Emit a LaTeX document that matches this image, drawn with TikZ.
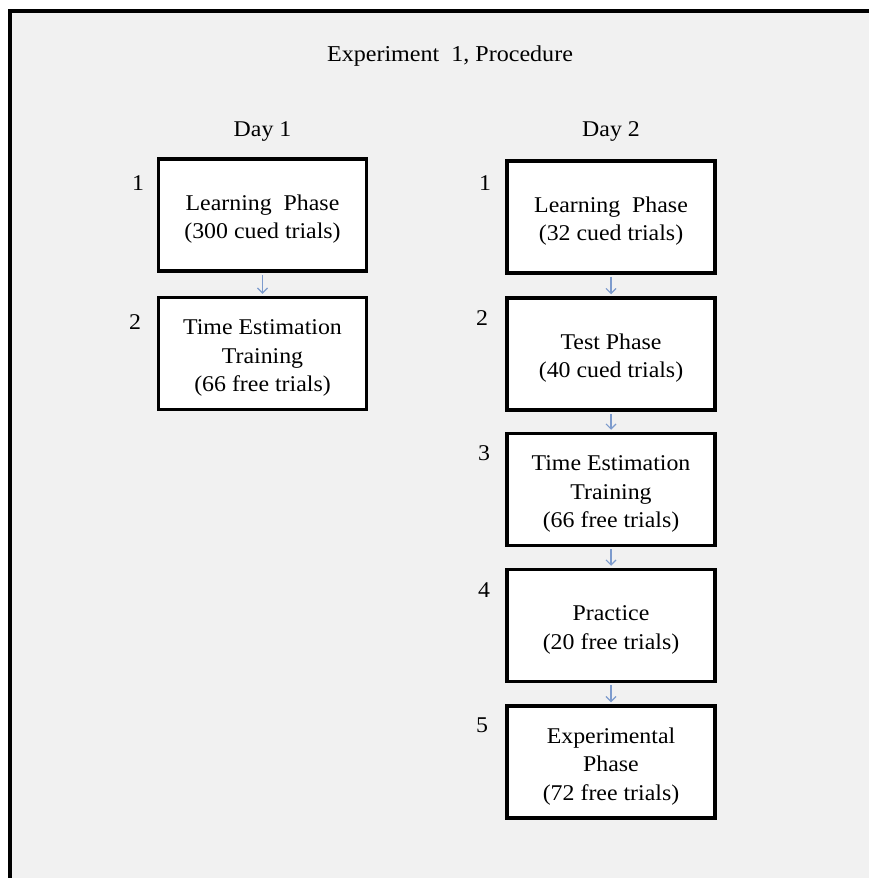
\documentclass[tikz,border=0pt]{standalone}
\usepackage{fontspec}
\setmainfont{Liberation Serif}
\newfontfamily\boxfont[FakeStretch=1.06]{Liberation Serif}
\usetikzlibrary{arrows.meta}
\definecolor{bggray}{RGB}{241,241,241}
\definecolor{arrowblue}{RGB}{125,155,205}
\newcommand\mystrut{\rule{0pt}{24pt}}
\begin{document}
\begin{tikzpicture}[x=1pt,y=-1pt,
  stepbox/.style={draw=black, line width=3.5pt, fill=white, minimum width=208pt,
    minimum height=112pt, inner sep=0pt, align=center,
    font=\boxfont\fontsize{22.5}{28.5}\selectfont},
  lbl/.style={font=\boxfont\fontsize{22.5}{26}\selectfont, inner sep=0pt, anchor=base},
  flow/.style={draw=arrowblue, line width=1.1pt, shorten <=2pt, shorten >=2pt,
    -{Straight Barb[length=5pt,width=10pt]}}]
\useasboundingbox (0,0) rectangle (869,878);
\fill[white] (0,0) rectangle (869,878);
\fill[bggray] (10,11) rectangle (869,878);
\draw[line width=4pt] (10,878) -- (10,11) -- (869,11);

\node[lbl, font=\boxfont\fontsize{22.7}{26}\selectfont] (title) at (450,61) {Experiment\ \ 1, Procedure};

\node[lbl] (day1) at (262.5,136) {Day 1};
\node[lbl] (day2) at (611,136) {Day 2};

% Day 1
\node[stepbox] (a1) at (262.5,215) {\mystrut Learning\ \ Phase\\(300 cued trials)};
\node[stepbox] (a2) at (262.5,353.5) {\mystrut Time Estimation\\Training\\(66 free trials)};
\node[lbl] (na1) at (138,190) {1};
\node[lbl] (na2) at (135,329) {2};

% Day 2
\node[stepbox] (b1) at (611,217) {\mystrut Learning\ \ Phase\\(32 cued trials)};
\node[stepbox] (b2) at (611,354) {\mystrut Test Phase\\(40 cued trials)};
\node[stepbox] (b3) at (611,489.5) {\mystrut Time Estimation\\Training\\(66 free trials)};
\node[stepbox] (b4) at (611,625.5) {\mystrut Practice\\(20 free trials)};
\node[stepbox] (b5) at (611,762) {\mystrut Experimental\\Phase\\(72 free trials)};
\node[lbl] (nb1) at (485,190) {1};
\node[lbl] (nb2) at (482,325) {2};
\node[lbl] (nb3) at (484,460) {3};
\node[lbl] (nb4) at (484,597) {4};
\node[lbl] (nb5) at (482,732) {5};

\draw[flow] (a1.south) -- (a2.north);
\draw[flow] (b1.south) -- (b2.north);
\draw[flow] (b2.south) -- (b3.north);
\draw[flow] (b3.south) -- (b4.north);
\draw[flow] (b4.south) -- (b5.north);
\end{tikzpicture}
\end{document}
